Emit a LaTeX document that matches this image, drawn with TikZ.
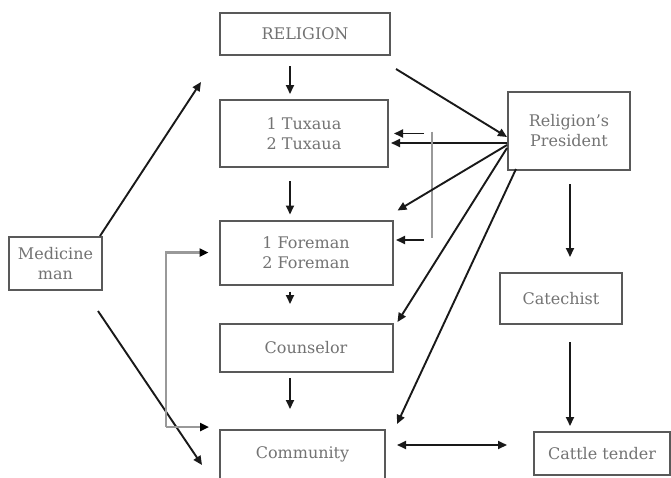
\documentclass[tikz,border=0pt]{standalone}
\usepackage{fontspec}
\setmainfont{DejaVu Serif}
\usetikzlibrary{arrows.meta,calc}
\begin{document}
\begin{tikzpicture}[x=1pt,y=-1pt,
  box/.style={draw=black!65, line width=2pt, fill=white, align=center, inner sep=0pt,
    text=black!55, font=\fontsize{16}{20}\selectfont},
  arr/.style={draw=black!90, line width=1.9pt, -{Triangle[length=9pt,width=8pt]}},
  dbl/.style={draw=black!90, line width=1.9pt, {Triangle[length=9pt,width=8pt]}-{Triangle[length=9pt,width=8pt]}},
  garr/.style={draw=black!40, line width=2.4pt, -{Triangle[length=9pt,width=8pt,color=black]}},
  gline/.style={draw=black!40, line width=2.4pt}]
\useasboundingbox (0,0) rectangle (671,477);
% nodes
\node[box, minimum width=170pt, minimum height=42pt] (rel) at (305,34) {RELIGION};
\node[box, minimum width=168pt, minimum height=67pt] (tux) at (304,133.5) {1 Tuxaua\\2 Tuxaua};
\node[box, minimum width=122pt, minimum height=78pt] (pres) at (569,131) {Religion’s\\President};
\node[box, minimum width=173pt, minimum height=64pt] (fore) at (306,252.5) {1 Foreman\\2 Foreman};
\node[box, minimum width=173pt, minimum height=48pt] (coun) at (306,348) {Counselor};
\node[box, minimum width=165pt, minimum height=60pt, text depth=14pt] (comm) at (302.5,460) {Community};
\node[box, minimum width=93pt, minimum height=53pt] (med) at (55.5,263.5) {Medicine\\man};
\node[box, minimum width=122pt, minimum height=51pt] (cat) at (561,298.5) {Catechist};
\node[box, minimum width=136pt, minimum height=43pt] (cattle) at (602,453.5) {Cattle tender};
% vertical chain
\draw[arr, shorten <=10pt, shorten >=5pt] ([xshift=-15pt]rel.south) -- ([xshift=-14pt]tux.north);
\draw[arr, shorten <=13pt, shorten >=5pt] ([xshift=-14pt]tux.south) -- ([xshift=-16pt]fore.north);
\draw[arr, shorten <=6pt, shorten >=19pt] ([xshift=-16pt]fore.south) -- ([xshift=-16pt]coun.north);
\draw[arr, shorten <=5pt, shorten >=20pt] ([xshift=-16pt]coun.south) -- ([xshift=-12.5pt]comm.north);
\draw[arr, shorten <=13pt, shorten >=15pt] ([xshift=1pt]pres.south) -- ([xshift=9pt]cat.north);
\draw[arr, shorten <=17pt, shorten >=5pt] ([xshift=9pt]cat.south) -- ([xshift=-32pt]cattle.north);
\draw[dbl, shorten <=11pt, shorten >=26pt] ($(comm.east)+(0,-15)$) -- ($(cattle.west)+(0,-8.5)$);
% religion to president
\draw[arr] ($(rel.south east)+(5,13)$) -- ($(pres.west)+(0,6)$);
% president to left
\draw[arr] ($(pres.west)+(0,12)$) -- ($(tux.east)+(2,9.5)$);
\draw[arr] ($(tux.east)+(35,0)$) -- ($(tux.east)+(5,0)$);
\draw[arr] ($(fore.east)+(30,-12.5)$) -- ($(fore.east)+(2.5,-12.5)$);
\draw[gline] ($(tux.east)+(43,-2)$) -- ($(fore.east)+(38.5,-14.5)$);
\draw[arr] ($(pres.west)+(0,14)$) -- ($(fore.north east)+(4,-9)$);
\draw[arr] ($(pres.west)+(0,17)$) -- ($(coun.north east)+(4,-1)$);
\draw[arr] ($(pres.south west)+(9,-2)$) -- ($(comm.north east)+(11,-5)$);
% medicine man
\draw[arr] ($(med.north)+(44.5,0)$) -- ($(tux.north west)+(-18,-17)$);
\draw[arr] ($(med.south)+(42.5,20)$) -- ($(comm.north west)+(-17,36)$);
% feedback
\draw[garr] ($(comm.north west)+(-53,-2)$) -- ($(comm.north west)+(-10,-2)$);
\draw[garr] ($(comm.north west)+(-53,-2)$) |- ($(fore.west)+(-10,0)$);
\end{tikzpicture}
\end{document}
